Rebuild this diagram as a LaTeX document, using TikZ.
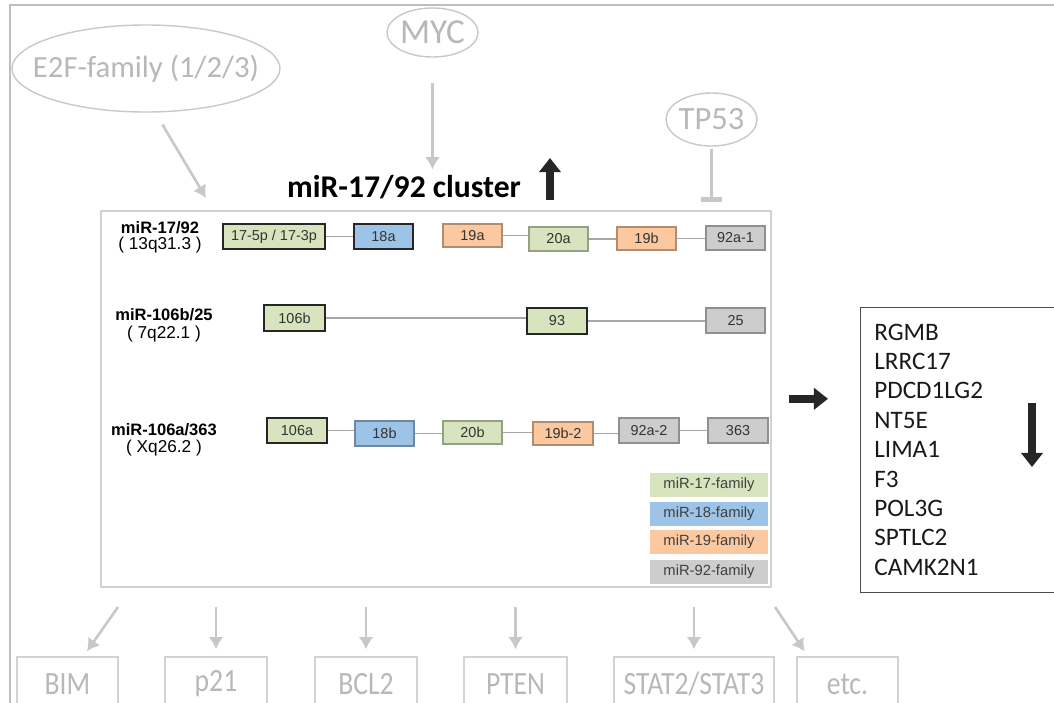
\documentclass[tikz,border=0pt]{standalone}
\usepackage{fontspec}
\setmainfont{Carlito}
\newfontfamily\arialfont{Liberation Sans}
\newfontfamily\condfont[FakeStretch=0.85]{Carlito}
\usetikzlibrary{shapes.geometric,arrows.meta}

\definecolor{famgreen}{HTML}{D7E4BD}
\definecolor{famblue}{HTML}{9DC3E6}
\definecolor{famorange}{HTML}{FBC8A0}
\definecolor{famgray}{HTML}{CDCDCD}
\definecolor{faded}{HTML}{C8C8C8}
\definecolor{fadedtext}{HTML}{B8B8B8}
\definecolor{linkgray}{HTML}{A6A6A6}
\definecolor{framegray}{HTML}{BEBEBE}

\tikzset{
  mirna/.style={draw=#1!70!black, fill=#1, line width=0.6pt, inner sep=0pt,
    minimum width=11.8mm, minimum height=4.8mm, text=black!80,
    font=\arialfont\fontsize{8.2}{9}\selectfont},
  seed/.style={draw=black!85, line width=1.3pt},
  famkey/.style={fill=#1, draw=none, inner sep=0pt, minimum width=23.6mm,
    minimum height=4.8mm, text=black!75, font=\arialfont\fontsize{8.4}{9}\selectfont},
  link/.style={draw=linkgray, line width=0.8pt},
  rowname/.style={inner sep=0pt, font=\arialfont\bfseries\fontsize{9.4}{10}\selectfont},
  locus/.style={inner sep=0pt, font=\arialfont\fontsize{9.8}{11}\selectfont},
  regulator/.style={ellipse, draw=faded, line width=0.8pt, text=fadedtext, inner sep=0pt},
  feed/.style={draw=faded, line width=1.5pt, -{Latex[length=7pt,width=8.5pt]}},
  inhibit/.style={draw=faded, line width=1.5pt, -{Bar[width=12pt,line width=2.8pt]}},
  target/.style={draw=faded!80, line width=0.8pt, text=fadedtext, inner sep=0pt,
    minimum height=10.8mm, font=\condfont\fontsize{18.5}{20}\selectfont},
  bigarrow/.style={draw=black!85, line width=4.8pt, -{Triangle[length=8pt,width=12pt]}},
  gene/.style={inner sep=0pt, anchor=base west, text=black!90,
    font=\fontsize{14.3}{16}\selectfont}
}

\begin{document}
\begin{tikzpicture}[x=0.2mm,y=-0.2mm]
\clip (0,0) rectangle (1054,702);
\draw[framegray, line width=1.1pt] (10,5) rectangle (1080,730);

% regulators upstream
\node[regulator, inner xsep=-6mm, minimum width=53.6mm, minimum height=17.4mm, font=\fontsize{17.5}{20}\selectfont] (E2F) at (146,68.5) {E2F-family (1/2/3)};
\node[regulator, inner xsep=-1mm, minimum width=18.2mm, minimum height=9.8mm, font=\fontsize{20}{22}\selectfont] (MYC) at (432.5,32.5) {MYC};
\node[regulator, inner xsep=-1mm, minimum width=18.2mm, minimum height=10.6mm, font=\fontsize{18.5}{20}\selectfont] (TP53) at (711.5,119.5) {TP53};

\node[inner sep=0pt, anchor=base, font=\bfseries\fontsize{18}{20}\selectfont] (title) at (404,197) {miR-17/92 cluster};
\draw[bigarrow] (550,200) -- (550,158);

\node[draw=black!18, line width=0.9pt, minimum width=134mm, minimum height=75.2mm, anchor=north west, inner sep=0pt] (cluster) at (100,210) {};

\coordinate (e2f head) at (206,198);
\draw[feed, shorten <=2.8mm] (E2F.-78) -- (e2f head);
\draw[feed, shorten <=5mm, shorten >=1mm] (MYC.south) -- (MYC.south |- title.north);
\draw[inhibit, shorten <=0.4mm, shorten >=1.6mm] (TP53.south) -- (TP53.south |- cluster.north);

% miR-17/92
\node[rowname] (name 1) at (160,228) {miR-17/92};
\node[locus] (locus 1) at (160,245) {( 13q31.3 )};
\node[mirna=famgreen, seed, minimum width=20.4mm, minimum height=5mm] (miR 17) at (274,236.5) {17-5p / 17-3p};
\node[mirna=famblue, seed, minimum height=5mm] (miR 18a) at (383.5,236.5) {18a};
\node[mirna=famorange, minimum height=4.6mm] (miR 19a) at (472.5,235.5) {19a};
\node[mirna=famgreen] (miR 20a) at (558.5,239) {20a};
\node[mirna=famorange, minimum height=4.6mm] (miR 19b) at (646.5,238.5) {19b};
\node[mirna=famgray] (miR 92a1) at (735.5,238) {92a-1};
\draw[link] (miR 17.east) -- (miR 18a.west |- miR 17.east);
\draw[link] (miR 19a.east) -- (miR 20a.west |- miR 19a.east);
\draw[link] (miR 20a.east) -- (miR 19b.west |- miR 20a.east);
\draw[link] (miR 19b.east) -- (miR 92a1.west |- miR 19b.east);

% miR-106b/25
\node[rowname] (name 2) at (164,315) {miR-106b/25};
\node[locus] (locus 2) at (164,334) {( 7q22.1 )};
\node[mirna=famgreen, seed, minimum width=12.2mm, minimum height=5.2mm] (miR 106b) at (294.5,318) {106b};
\node[mirna=famgreen, seed, minimum width=12mm, minimum height=5.2mm] (miR 93) at (557,321) {93};
\node[mirna=famgray, minimum height=5mm] (miR 25) at (735.5,320.5) {25};
\draw[link] (miR 106b.east) -- (miR 93.west |- miR 106b.east);
\draw[link] (miR 93.east) -- (miR 25.west |- miR 93.east);

% miR-106a/363
\node[rowname] (name 3) at (164,430) {miR-106a/363};
\node[locus] (locus 3) at (164,448) {( Xq26.2 )};
\node[mirna=famgreen, seed, minimum width=12mm, minimum height=5mm] (miR 106a) at (297,430.5) {106a};
\node[mirna=famblue, minimum height=5mm] (miR 18b) at (384.5,433.5) {18b};
\node[mirna=famgreen, minimum height=4.6mm] (miR 20b) at (472.5,432.5) {20b};
\node[mirna=famorange, minimum width=12mm, minimum height=4.6mm] (miR 19b2) at (563,433.5) {19b-2};
\node[mirna=famgray, minimum width=12mm, minimum height=5mm] (miR 92a2) at (649,430.5) {92a-2};
\node[mirna=famgray, minimum width=12mm, minimum height=5mm] (miR 363) at (738,430.5) {363};
\draw[link] (miR 106a.east) -- (miR 18b.west |- miR 106a.east);
\draw[link] (miR 18b.east) -- (miR 20b.west |- miR 18b.east);
\draw[link] (miR 20b.east) -- (miR 19b2.west |- miR 20b.east);
\draw[link] (miR 19b2.east) -- (miR 92a2.west |- miR 19b2.east);
\draw[link] (miR 92a2.east) -- (miR 363.west |- miR 92a2.east);

% families
\node[famkey=famgreen] (key 17) at (709,485) {miR-17-family};
\node[famkey=famblue] (key 18) at (709,514) {miR-18-family};
\node[famkey=famorange] (key 19) at (709,542) {miR-19-family};
\node[famkey=famgray] (key 92) at (709,572) {miR-92-family};

% targets, down
\node[draw=black!70, line width=0.8pt, minimum width=44mm, minimum height=57mm, anchor=north west, inner sep=0pt] (target box) at (860,307) {};
\draw[bigarrow, shorten <=3.4mm, shorten >=6.4mm] (cluster.east) -- (cluster.east -| target box.west);
\foreach \g [count=\i from 0] in {RGMB,LRRC17,PDCD1LG2,NT5E,LIMA1,F3,POL3G,SPTLC2,CAMK2N1}
  \node[gene] (gene \i) at (874,340+29.4*\i) {\g};
\draw[bigarrow] (1032,403) -- (1032,467);

% validated targets
\node[target, minimum width=20.2mm] (BIM) at (67.5,684) {BIM};
\node[target, minimum width=20.4mm] (p21) at (216,684) {p21};
\node[target, minimum width=20.4mm] (BCL2) at (366,684) {BCL2};
\node[target, minimum width=20.6mm] (PTEN) at (515.5,684) {PTEN};
\node[target, minimum width=32mm] (STAT) at (694,684) {STAT2/STAT3};
\node[target, minimum width=20.2mm] (etc) at (847.5,684) {etc.};
\coordinate (to BIM) at (118,607);
\coordinate (to etc) at (775,607);
\draw[feed, shorten >=1.2mm] (to BIM) -- (BIM.60);
\draw[feed, shorten <=3.8mm, shorten >=1.4mm] (cluster.south -| p21.north) -- (p21.north);
\draw[feed, shorten <=3.8mm, shorten >=1.4mm] (cluster.south -| BCL2.north) -- (BCL2.north);
\draw[feed, shorten <=3.8mm, shorten >=1.4mm] (cluster.south -| PTEN.north) -- (PTEN.north);
\draw[feed, shorten <=3.8mm, shorten >=1.4mm] (cluster.south -| STAT.north) -- (STAT.north);
\draw[feed, shorten >=1.2mm] (to etc) -- (etc.145);
\end{tikzpicture}
\end{document}
